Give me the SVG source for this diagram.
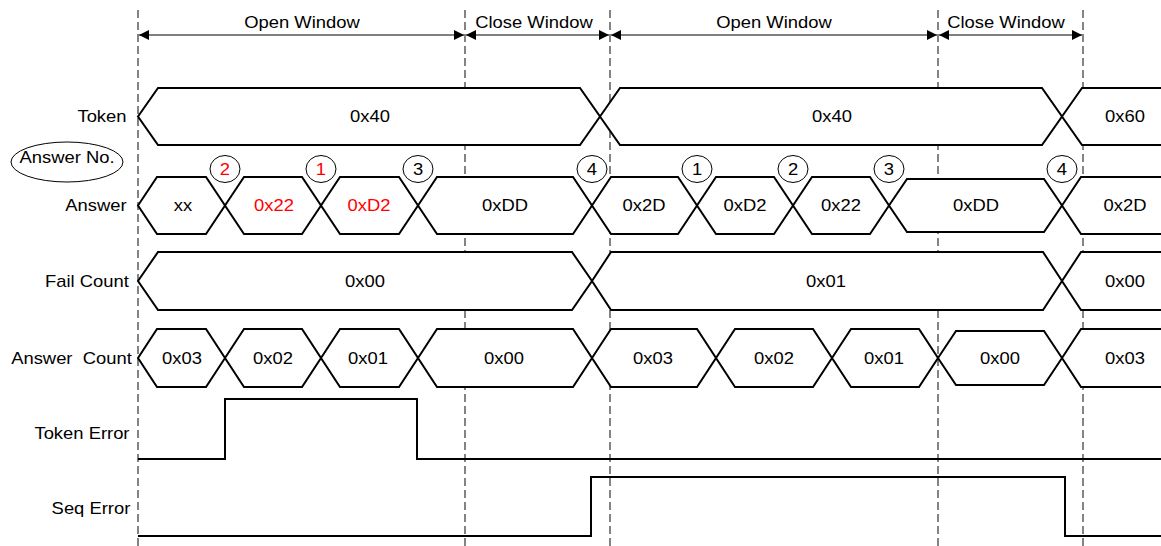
<svg xmlns="http://www.w3.org/2000/svg" width="1161" height="546" viewBox="0 0 1161 546">
<style>
.t{font-family:"Liberation Sans",Arial,sans-serif;font-size:16px;fill:#000;text-anchor:middle;transform-box:fill-box;transform-origin:center;transform:scaleX(1.15)}
.red{fill:#ff0000}
.bus{fill:#fff;stroke:#000;stroke-width:2;stroke-linejoin:miter}
.sig{fill:none;stroke:#000;stroke-width:2}
.dash{stroke:#333;stroke-width:1.2;stroke-dasharray:8,4}
.arr{stroke:#000;stroke-width:1;marker-start:url(#ah);marker-end:url(#ah)}
.num{fill:#fff;stroke:#000;stroke-width:1}
</style>
<defs>
<marker id="ah" viewBox="0 0 10 10" refX="10" refY="5" markerWidth="10" markerHeight="10" markerUnits="userSpaceOnUse" orient="auto-start-reverse">
<path d="M0,0 L10,5 L0,10 z" fill="#000"/>
</marker>
</defs>
<rect width="1161" height="546" fill="#fff"/>
<g id="connectors">
<line class="dash" x1="138" y1="10" x2="138" y2="546"/>
<line class="dash" x1="465" y1="10" x2="465" y2="546"/>
<line class="dash" x1="610" y1="10" x2="610" y2="546"/>
<line class="dash" x1="938" y1="10" x2="938" y2="546"/>
<line class="dash" x1="1083" y1="10" x2="1083" y2="546"/>
<line class="arr" x1="139" y1="35" x2="464" y2="35"/>
<line class="arr" x1="466" y1="35" x2="609" y2="35"/>
<line class="arr" x1="611" y1="35" x2="937" y2="35"/>
<line class="arr" x1="939" y1="35" x2="1082" y2="35"/>
</g>
<g id="window-labels">
<text class="t" x="302" y="28">Open Window</text>
<text class="t" x="534" y="28">Close Window</text>
<text class="t" x="774" y="28">Open Window</text>
<text class="t" x="1006" y="28">Close Window</text>
</g>
<g id="sig-token">
<text class="t" x="102" y="122">Token</text>
<polygon class="bus" points="138,116.5 158,88 580,88 600,116.5 580,145 158,145"/>
<polygon class="bus" points="600,116.5 620,88 1042,88 1062,116.5 1042,145 620,145"/>
<polygon class="bus" points="1062,116.5 1082,88 1170,88 1170,145 1082,145"/>
<text class="t" x="370" y="122">0x40</text>
<text class="t" x="832" y="122">0x40</text>
<text class="t" x="1125" y="122">0x60</text>
</g>
<g id="answer-no">
<ellipse cx="67" cy="162" rx="56" ry="20" fill="#fff" stroke="#000" stroke-width="1"/>
<text class="t" x="67" y="163">Answer No.</text>
</g>
<g id="sig-answer">
<text class="t" x="96" y="211">Answer</text>
<polygon class="bus" points="138,205.5 157,177 206,177 225,205.5 206,234 157,234"/>
<polygon class="bus" points="225,205.5 244,177 302,177 321,205.5 302,234 244,234"/>
<polygon class="bus" points="321,205.5 340,177 399,177 418,205.5 399,234 340,234"/>
<polygon class="bus" points="418,205.5 437,177 573,177 592,205.5 573,234 437,234"/>
<polygon class="bus" points="592,205.5 611,177 678,177 697,205.5 678,234 611,234"/>
<polygon class="bus" points="697,205.5 716,177 774,177 793,205.5 774,234 716,234"/>
<polygon class="bus" points="793,205.5 812,177 870,177 889,205.5 870,234 812,234"/>
<polygon class="bus" points="889,205.5 907,179 1044,179 1062,205.5 1044,232 907,232"/>
<polygon class="bus" points="1062,205.5 1081,177 1170,177 1170,234 1081,234"/>
<text class="t" x="183" y="211">xx</text>
<text class="t red" x="274" y="211">0x22</text>
<text class="t red" x="369" y="211">0xD2</text>
<text class="t" x="505" y="211">0xDD</text>
<text class="t" x="644" y="211">0x2D</text>
<text class="t" x="745" y="211">0xD2</text>
<text class="t" x="841" y="211">0x22</text>
<text class="t" x="976" y="211">0xDD</text>
<text class="t" x="1125" y="211">0x2D</text>
</g>
<g id="answer-numbers">
<ellipse class="num" cx="225" cy="169" rx="15" ry="13.5"/>
<ellipse class="num" cx="321" cy="169" rx="15" ry="13.5"/>
<ellipse class="num" cx="418" cy="169" rx="15" ry="13.5"/>
<ellipse class="num" cx="592" cy="169" rx="15" ry="13.5"/>
<ellipse class="num" cx="697" cy="169" rx="15" ry="13.5"/>
<ellipse class="num" cx="793" cy="169" rx="15" ry="13.5"/>
<ellipse class="num" cx="889" cy="169" rx="15" ry="13.5"/>
<ellipse class="num" cx="1062" cy="169" rx="15" ry="13.5"/>
<text class="t red" x="225" y="175">2</text>
<text class="t red" x="321" y="175">1</text>
<text class="t" x="418" y="175">3</text>
<text class="t" x="592" y="175">4</text>
<text class="t" x="697" y="175">1</text>
<text class="t" x="793" y="175">2</text>
<text class="t" x="889" y="175">3</text>
<text class="t" x="1062" y="175">4</text>
</g>
<g id="sig-fail-count">
<text class="t" x="87" y="287">Fail Count</text>
<polygon class="bus" points="138,281 158,252 572,252 592,281 572,310 158,310"/>
<polygon class="bus" points="592,281 611,252 1043,252 1062,281 1043,310 611,310"/>
<polygon class="bus" points="1062,281 1081,252 1170,252 1170,310 1081,310"/>
<text class="t" x="365" y="287">0x00</text>
<text class="t" x="826" y="287">0x01</text>
<text class="t" x="1125" y="287">0x00</text>
</g>
<g id="sig-answer-count">
<text class="t" x="71.5" y="364" xml:space="preserve">Answer  Count</text>
<polygon class="bus" points="138,358 157,329 206,329 225,358 206,387 157,387"/>
<polygon class="bus" points="225,358 244,329 302,329 321,358 302,387 244,387"/>
<polygon class="bus" points="321,358 340,329 399,329 418,358 399,387 340,387"/>
<polygon class="bus" points="418,358 437,329 573,329 592,358 573,387 437,387"/>
<polygon class="bus" points="592,358 611,329 697,329 716,358 697,387 611,387"/>
<polygon class="bus" points="716,358 735,329 813,329 832,358 813,387 735,387"/>
<polygon class="bus" points="832,358 851,329 919,329 938,358 919,387 851,387"/>
<polygon class="bus" points="938,358 956,331 1044,331 1062,358 1044,385 956,385"/>
<polygon class="bus" points="1062,358 1081,329 1170,329 1170,387 1081,387"/>
<text class="t" x="182" y="364">0x03</text>
<text class="t" x="273" y="364">0x02</text>
<text class="t" x="368" y="364">0x01</text>
<text class="t" x="504" y="364">0x00</text>
<text class="t" x="653" y="364">0x03</text>
<text class="t" x="774" y="364">0x02</text>
<text class="t" x="884" y="364">0x01</text>
<text class="t" x="1000" y="364">0x00</text>
<text class="t" x="1125" y="364">0x03</text>
</g>
<g id="sig-token-error">
<text class="t" x="82" y="439">Token Error</text>
<path class="sig" d="M138,459 H225 V399 H417 V459 H1161"/>
</g>
<g id="sig-seq-error">
<text class="t" x="91" y="514">Seq Error</text>
<path class="sig" d="M138,536 H591 V477 H1065 V536 H1161"/>
</g>
</svg>
